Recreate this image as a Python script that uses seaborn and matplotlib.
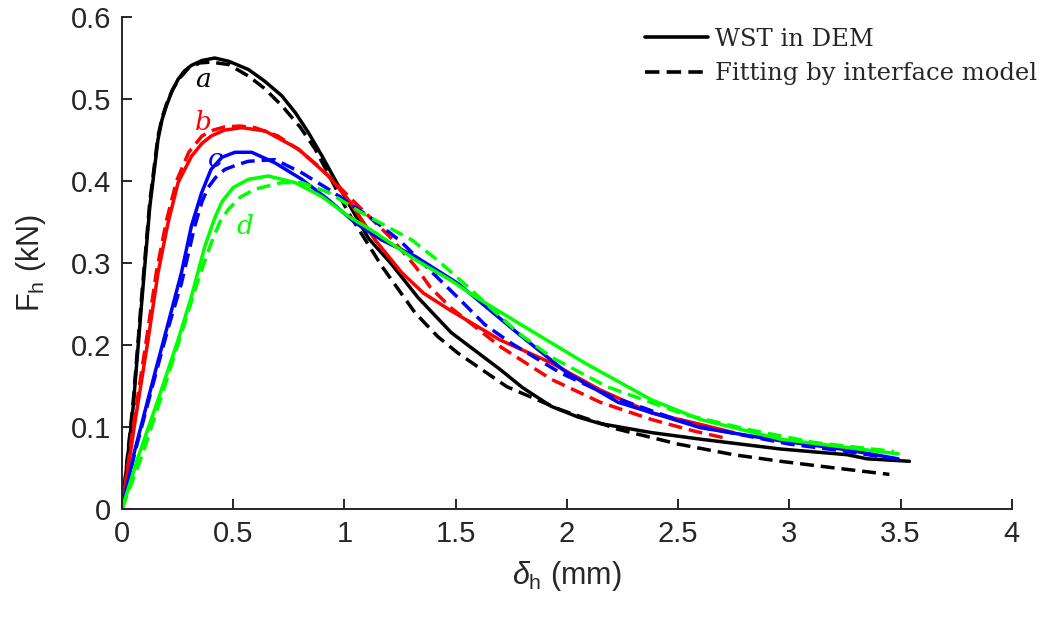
import numpy as np
import matplotlib
matplotlib.use('Agg')
import matplotlib.pyplot as plt
import pandas as pd
import seaborn as sns
from matplotlib.lines import Line2D

# curve a (black)
a_dem_x = [0, 0.05, 0.087, 0.125, 0.162, 0.18, 0.20, 0.225, 0.252, 0.28, 0.312, 0.36, 0.417, 0.48, 0.568, 0.64,
           0.718, 0.78, 0.838, 0.90, 0.965, 1.108, 1.207, 1.33, 1.48, 1.70, 1.80, 1.93, 2.05, 2.15, 2.38, 2.60,
           2.96, 3.26, 3.35, 3.54]
a_dem_y = [0, 0.124, 0.247, 0.369, 0.451, 0.475, 0.492, 0.51, 0.524, 0.534, 0.541, 0.547, 0.550, 0.546, 0.536,
           0.522, 0.504, 0.483, 0.459, 0.43, 0.398, 0.33, 0.30, 0.258, 0.215, 0.170, 0.148, 0.125, 0.112, 0.104,
           0.093, 0.085, 0.073, 0.066, 0.061, 0.058]
a_fit_x = [0, 0.05, 0.087, 0.125, 0.162, 0.18, 0.20, 0.225, 0.252, 0.30, 0.35, 0.40, 0.48, 0.568, 0.64, 0.718,
           0.80, 0.868, 0.94, 1.018, 1.168, 1.318, 1.42, 1.51, 1.73, 1.97, 2.23, 2.50, 2.75, 2.96, 3.20, 3.45]
a_fit_y = [0, 0.13, 0.255, 0.375, 0.455, 0.477, 0.494, 0.51, 0.523, 0.538, 0.544, 0.545, 0.542, 0.528, 0.513,
           0.492, 0.466, 0.439, 0.402, 0.361, 0.296, 0.239, 0.21, 0.19, 0.149, 0.121, 0.097, 0.079, 0.066, 0.058,
           0.050, 0.042]

# curve b (red)
b_dem_x = [0, 0.057, 0.117, 0.162, 0.207, 0.252, 0.312, 0.36, 0.402, 0.46, 0.538, 0.643, 0.793, 0.928, 1.018,
           1.138, 1.258, 1.356, 1.477, 1.70, 1.93, 2.15, 2.38, 2.57, 2.75]
b_dem_y = [0, 0.104, 0.206, 0.288, 0.349, 0.398, 0.43, 0.446, 0.455, 0.462, 0.465, 0.461, 0.439, 0.406, 0.377,
           0.328, 0.288, 0.263, 0.242, 0.206, 0.178, 0.145, 0.117, 0.105, 0.093]
b_fit_x = [0, 0.05, 0.11, 0.155, 0.20, 0.245, 0.30, 0.36, 0.41, 0.462, 0.53, 0.598, 0.70, 0.80, 0.90, 1.027,
           1.207, 1.318, 1.387, 1.48, 1.70, 1.93, 2.15, 2.38, 2.57, 2.70]
b_fit_y = [0, 0.10, 0.207, 0.29, 0.352, 0.40, 0.435, 0.455, 0.462, 0.466, 0.467, 0.465, 0.455, 0.437, 0.414,
           0.379, 0.331, 0.296, 0.27, 0.245, 0.198, 0.158, 0.13, 0.109, 0.095, 0.087]

# curve c (blue)
c_dem_x = [0, 0.057, 0.147, 0.207, 0.267, 0.312, 0.357, 0.40, 0.45, 0.508, 0.583, 0.688, 0.808, 0.928, 1.048,
           1.168, 1.318, 1.51, 1.78, 2.0, 2.23, 2.6, 2.96, 3.26, 3.49]
c_dem_y = [0, 0.071, 0.165, 0.226, 0.288, 0.345, 0.385, 0.414, 0.429, 0.435, 0.435, 0.422, 0.402, 0.377, 0.349,
           0.328, 0.308, 0.275, 0.214, 0.166, 0.13, 0.099, 0.083, 0.072, 0.061]
c_fit_x = [0, 0.057, 0.147, 0.207, 0.267, 0.327, 0.36, 0.387, 0.42, 0.462, 0.52, 0.568, 0.688, 0.808, 0.928,
           1.108, 1.25, 1.43, 1.52, 1.63, 1.75, 1.97, 2.20, 2.45, 2.60, 3.0, 3.26, 3.47]
c_fit_y = [0, 0.068, 0.16, 0.22, 0.275, 0.345, 0.375, 0.392, 0.404, 0.414, 0.42, 0.424, 0.426, 0.41, 0.39,
           0.357, 0.327, 0.279, 0.255, 0.225, 0.202, 0.166, 0.137, 0.113, 0.10, 0.079, 0.07, 0.061]

# curve d (green)
d_dem_x = [0, 0.072, 0.162, 0.252, 0.312, 0.372, 0.417, 0.45, 0.50, 0.568, 0.658, 0.778, 0.898, 1.018, 1.138,
           1.318, 1.477, 1.58, 1.78, 2.08, 2.38, 2.6, 2.96, 3.49]
d_dem_y = [0, 0.063, 0.133, 0.206, 0.259, 0.32, 0.355, 0.375, 0.392, 0.402, 0.406, 0.398, 0.381, 0.357, 0.337,
           0.304, 0.279, 0.26, 0.227, 0.178, 0.133, 0.109, 0.085, 0.067]
d_fit_x = [0, 0.09, 0.177, 0.267, 0.342, 0.402, 0.44, 0.477, 0.53, 0.598, 0.718, 0.808, 0.928, 1.078, 1.303,
           1.42, 1.55, 1.63, 1.78, 1.93, 2.18, 2.53, 2.81, 3.11, 3.47]
d_fit_y = [0, 0.065, 0.137, 0.214, 0.279, 0.325, 0.35, 0.365, 0.38, 0.39, 0.398, 0.398, 0.386, 0.361, 0.328,
           0.303, 0.272, 0.252, 0.215, 0.185, 0.149, 0.115, 0.097, 0.081, 0.07]

cases = ['a', 'b', 'c', 'd']
case_colors = {'a': '#000000', 'b': '#ff0000', 'c': '#0000ff', 'd': '#00ff00'}
sources = ['WST in DEM', 'Fitting by interface model']
label_pos = {'a': (0.365, 0.524), 'b': (0.365, 0.471), 'c': (0.417, 0.426), 'd': (0.553, 0.345)}

curves = {
    ('a', sources[0]): (a_dem_x, a_dem_y), ('a', sources[1]): (a_fit_x, a_fit_y),
    ('b', sources[0]): (b_dem_x, b_dem_y), ('b', sources[1]): (b_fit_x, b_fit_y),
    ('c', sources[0]): (c_dem_x, c_dem_y), ('c', sources[1]): (c_fit_x, c_fit_y),
    ('d', sources[0]): (d_dem_x, d_dem_y), ('d', sources[1]): (d_fit_x, d_fit_y),
}
rows = []
for (case, src), (xs, ys) in curves.items():
    for xv, yv in zip(xs, ys):
        rows.append({'delta': xv, 'F': yv, 'case': case, 'source': src})
df = pd.DataFrame(rows)

sns.set_style('ticks')
plt.rcParams['font.family'] = ['Liberation Sans', 'DejaVu Sans']
plt.rcParams['mathtext.fontset'] = 'custom'
plt.rcParams['mathtext.rm'] = 'Liberation Sans'
plt.rcParams['mathtext.it'] = 'Liberation Sans:italic'

axis_col = '#262626'
fig = plt.figure(figsize=(10.43, 6.19), dpi=100)
ax = fig.add_axes([0.117, 0.178, 0.853, 0.7945])

fit_dash = (4, 2)
dash_map = {sources[0]: '', sources[1]: fit_dash}
sns.lineplot(data=df, x='delta', y='F', hue='case', style='source', palette=case_colors,
             dashes=dash_map, sort=False, estimator=None, linewidth=2.5, legend=False, ax=ax)
for ln in ax.get_lines():
    ln.set_solid_joinstyle('round')
    ln.set_dash_joinstyle('round')

for c in cases:
    ax.text(label_pos[c][0], label_pos[c][1], c, color=case_colors[c], fontsize=19,
            family='DejaVu Serif', style='italic', ha='center', va='center')

ax.set_xlim(0, 4)
ax.set_ylim(0, 0.6)
ax.set_xticks(np.arange(0, 4.01, 0.5))
ax.set_xticklabels(['0', '0.5', '1', '1.5', '2', '2.5', '3', '3.5', '4'])
ax.set_yticks(np.arange(0, 0.61, 0.1))
ax.set_yticklabels(['0', '0.1', '0.2', '0.3', '0.4', '0.5', '0.6'])
ax.tick_params(direction='in', length=7, width=1.4, colors=axis_col, labelsize=21, pad=8)
for s in ['left', 'bottom']:
    ax.spines[s].set_linewidth(1.4)
    ax.spines[s].set_color(axis_col)
sns.despine(ax=ax)

ax.set_xlabel(r'$\delta_\mathrm{h}$ (mm)', fontsize=22, color=axis_col, labelpad=8)
ax.set_ylabel(r'F$_\mathrm{h}$ (kN)', fontsize=22, color=axis_col, labelpad=16)

handles = [Line2D([], [], color='black', lw=2.6),
           Line2D([], [], color='black', lw=2.6, dashes=fit_dash)]
ax.legend(handles, sources, loc='upper left', bbox_to_anchor=(645 / 1043, 1 - 28 / 619),
          bbox_transform=fig.transFigure, frameon=False, borderpad=0, borderaxespad=0,
          handlelength=2.6, handletextpad=0.3, labelspacing=0.47,
          prop={'family': 'DejaVu Serif', 'size': 17.5})

fig.savefig('out.png', dpi=100)
